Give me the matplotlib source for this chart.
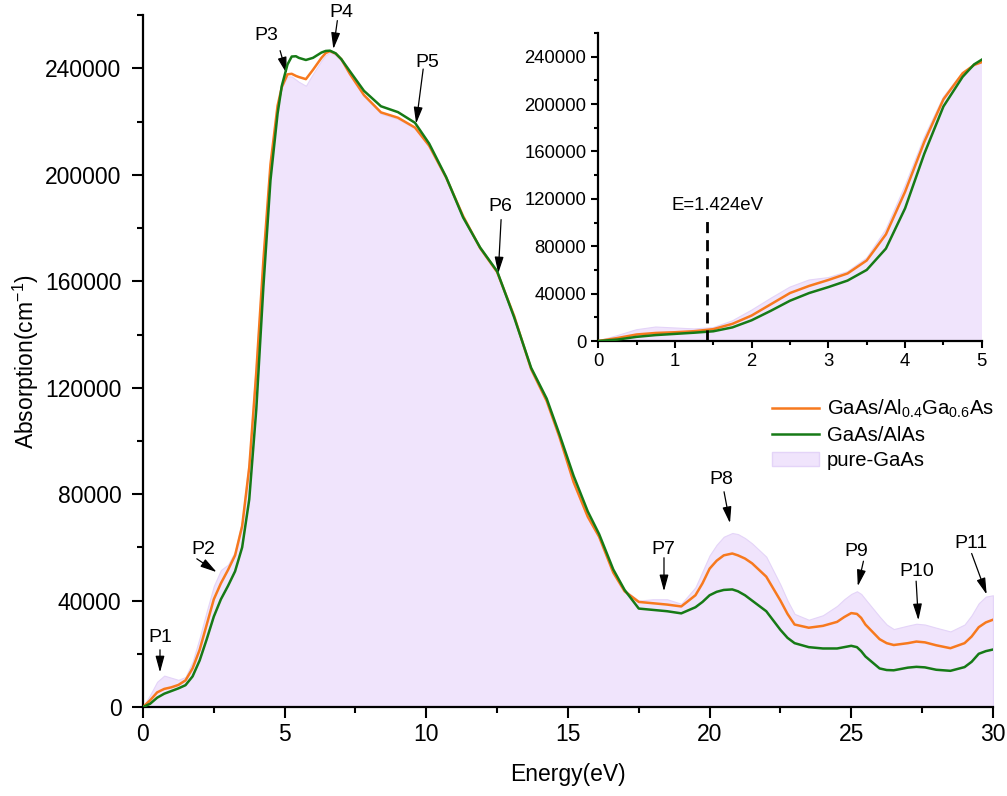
import numpy as np
import matplotlib
matplotlib.use("Agg")
import matplotlib.pyplot as plt
from matplotlib.patches import Patch
from matplotlib.lines import Line2D
from matplotlib.ticker import MultipleLocator

plt.rcParams['font.family'] = ['Liberation Sans', 'DejaVu Sans']
plt.rcParams['mathtext.fontset'] = 'custom'
plt.rcParams['mathtext.rm'] = 'Liberation Sans'
plt.rcParams['mathtext.it'] = 'Liberation Sans'

# photon energy (eV)
energy = [0, 0.25, 0.5, 0.75, 1.0, 1.25, 1.5, 1.75, 2.0, 2.25, 2.5, 2.75, 3.0, 3.25,
          3.5, 3.75, 4.0, 4.25, 4.5, 4.75, 4.9, 5.1, 5.25, 5.4, 5.5, 5.75, 6.0, 6.3,
          6.45, 6.6, 6.8, 7.0, 7.3, 7.8, 8.4, 9.0, 9.6, 10.1, 10.7, 11.3, 11.9, 12.5,
          13.1, 13.7, 14.25, 14.7, 15.2, 15.7, 16.1, 16.6, 17.0, 17.5, 18.0, 18.5,
          19.0, 19.5, 19.75, 20.0, 20.25, 20.5, 20.8, 21.0, 21.25, 21.5, 22.0, 22.5,
          22.75, 23.0, 23.5, 24.0, 24.5, 24.75, 25.0, 25.2, 25.35, 25.5, 26.0, 26.25,
          26.5, 27.0, 27.3, 27.6, 28.0, 28.5, 29.0, 29.25, 29.5, 29.75, 30.0]

# absorption (cm^-1), GaAs/Al0.4Ga0.6As
alga = [0, 2500, 5500, 6800, 7400, 8300, 10000, 14500, 21500, 31000, 40500, 46500,
        51500, 57000, 68000, 90000, 126000, 168000, 204000, 226000, 233000, 237800,
        238000, 237200, 236800, 236000, 239500, 244000, 245800, 246500, 245600,
        243500, 238000, 230000, 223500, 221500, 217800, 211000, 199000, 184500,
        172500, 163500, 147000, 127000, 115000, 101500, 84500, 71500, 64000, 50500,
        43500, 39500, 39000, 38500, 37800, 42000, 46500, 52000, 55000, 57000, 57700,
        57000, 55800, 54000, 49000, 40000, 35000, 31000, 29800, 30500, 32000, 33800,
        35300, 35000, 33500, 31000, 25500, 24000, 23300, 24000, 24600, 24300, 23200,
        22100, 24000, 26500, 30000, 31800, 32800]

# GaAs/AlAs
alas = [0, 1200, 3500, 5000, 6000, 7000, 8200, 11500, 17500, 25500, 34000, 40500,
        45500, 51000, 60000, 78000, 112000, 158000, 198000, 223000, 233500, 241500,
        244500, 244600, 244000, 243200, 244000, 246000, 246600, 246700, 245700,
        243500, 239000, 231600, 225800, 223600, 219600, 211800, 199200, 184000,
        172700, 163800, 146500, 127500, 115900, 102500, 86900, 73500, 65000, 51700,
        44000, 37000, 36500, 36000, 35200, 37500, 39500, 42000, 43300, 44000, 44200,
        43500, 42000, 40000, 36000, 29000, 26000, 24000, 22500, 22000, 22000, 22500,
        23000, 22500, 21000, 19000, 14500, 13900, 13800, 14800, 15100, 14900, 14000,
        13600, 15000, 17000, 20000, 21000, 21600]

# pure GaAs
pure = [0, 4500, 9500, 11800, 11000, 10200, 11300, 17000, 26000, 36000, 45500, 51500,
        53500, 58500, 70000, 94000, 131000, 172000, 206000, 226500, 233000, 237000,
        237000, 235800, 235000, 233500, 238000, 243000, 245000, 246000, 245000,
        243000, 237500, 229500, 223000, 221000, 217500, 210500, 198500, 184000,
        172000, 163000, 146500, 126500, 114500, 101000, 84000, 71000, 63500, 50500,
        44000, 40000, 40500, 40500, 38800, 45000, 51000, 57000, 61000, 64000, 65400,
        65000, 63500, 61500, 56500, 46000, 40000, 35000, 32800, 34500, 38000, 40500,
        42500, 43500, 42500, 40500, 34000, 31000, 29300, 30600, 31300, 31000, 29800,
        28400, 31000, 34500, 39000, 41500, 42000]

# peak labels: name, text centre, arrow start, arrow tip (E, abs)
peak_names = ['P1', 'P2', 'P3', 'P4', 'P5', 'P6', 'P7', 'P8', 'P9', 'P10', 'P11']
peak_text = [(0.6, 24500), (2.12, 57500), (4.34, 250700), (7.01, 259500),
             (10.04, 240500), (12.63, 186500), (18.37, 57500), (20.43, 84000),
             (25.17, 56800), (27.31, 49200), (29.23, 59700)]
arrow_start = [(0.6, 21500), (1.9, 55700), (4.84, 246700), (6.86, 258000),
               (9.89, 239800), (12.64, 183200), (18.39, 56100), (20.51, 80900),
               (25.43, 54800), (27.29, 47300), (29.25, 57700)]
arrow_tip = [(0.6, 13000), (2.6, 50700), (5.07, 238100), (6.72, 247300),
             (9.64, 219300), (12.54, 163000), (18.39, 43500), (20.72, 69100),
             (25.23, 45400), (27.37, 32600), (29.78, 42300)]

gap_energy = 1.424

c_orange = '#F7791E'
c_green = '#167A16'
c_fill = '#F0E4FC'
c_fill_edge = '#E4D4F8'

fig = plt.figure(figsize=(10.07, 7.96), dpi=100)
ax = fig.add_axes([0.142, 0.1118, 0.844, 0.869])


def draw_curves(a, lw=1.8):
    a.fill_between(energy, 0, pure, facecolor=c_fill, edgecolor=c_fill_edge, lw=0.8, zorder=1)
    a.plot(energy, alga, color=c_orange, lw=lw, zorder=3)
    a.plot(energy, alas, color=c_green, lw=lw, zorder=4)


def style_axes(a, size, major_len, minor_len):
    for s in ['top', 'right']:
        a.spines[s].set_visible(False)
    for s in ['left', 'bottom']:
        a.spines[s].set_linewidth(1.6)
    a.tick_params(which='major', direction='out', length=major_len, width=1.5, labelsize=size)
    a.tick_params(which='minor', direction='out', length=minor_len, width=1.5)
    a.yaxis.set_major_locator(MultipleLocator(40000))
    a.yaxis.set_minor_locator(MultipleLocator(20000))


draw_curves(ax)
ax.set_xlim(0, 30)
ax.set_ylim(0, 260000)
style_axes(ax, 16.5, 8, 4)
ax.tick_params(axis='y', which='major', pad=7.5)
ax.xaxis.set_major_locator(MultipleLocator(5))
ax.xaxis.set_minor_locator(MultipleLocator(2.5))
ax.set_xlabel('Energy(eV)', fontsize=16.5, labelpad=12)
ax.set_ylabel('Absorption(cm$^{-1}$)', fontsize=16.5, labelpad=3)

for name, txt, start, tip in zip(peak_names, peak_text, arrow_start, arrow_tip):
    ax.text(txt[0], txt[1], name, ha='center', va='baseline', fontsize=14, clip_on=False)
    ax.annotate('', xy=tip, xytext=start, annotation_clip=False,
                arrowprops=dict(arrowstyle='-|>,head_length=0.55,head_width=0.15',
                                mutation_scale=18, color='black', lw=0.9,
                                shrinkA=0, shrinkB=0))

handles = [Line2D([], [], color=c_orange, lw=1.8),
           Line2D([], [], color=c_green, lw=1.8),
           Patch(facecolor=c_fill, edgecolor=c_fill_edge)]
labels = ['GaAs/Al$_{0.4}$Ga$_{0.6}$As', 'GaAs/AlAs', 'pure-GaAs']
fig.legend(handles, labels, loc='upper left', bbox_to_anchor=(0.7666, 0.500),
           frameon=False, fontsize=14.6, handlelength=2.3, handletextpad=0.4,
           labelspacing=0.3, borderpad=0, borderaxespad=0)

# inset: band-gap region
ins = fig.add_axes([0.594, 0.5716, 0.381, 0.387])
draw_curves(ins)
ins.set_xlim(0, 5)
ins.set_ylim(0, 260000)
style_axes(ins, 13.3, 5, 3)
ins.xaxis.set_major_locator(MultipleLocator(1))
ins.xaxis.set_minor_locator(MultipleLocator(0.5))
ins.plot([gap_energy, gap_energy], [0, 102000], color='black', lw=2,
         linestyle=(0, (4, 2.5)), zorder=5)
ins.text(1.56, 114400, 'E=1.424eV', ha='center', va='center', fontsize=13.4)

fig.savefig('out.png', dpi=100)
